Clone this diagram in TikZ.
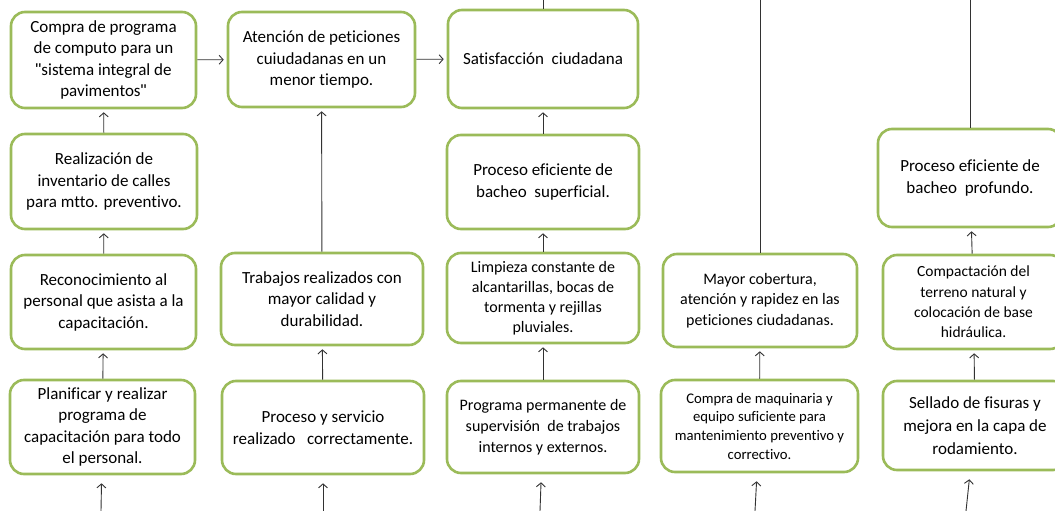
\documentclass[tikz,border=0pt]{standalone}
\usepackage{fontspec}
\setmainfont{Carlito}[Ligatures=NoCommon]
\newfontfamily\quotefont{Liberation Sans}
\usetikzlibrary{arrows.meta}

\definecolor{boxgreen}{RGB}{155,187,89}
\definecolor{linegray}{RGB}{50,50,50}
\newcommand{\sq}{{\quotefont\symbol{34}}}

\begin{document}
\begin{tikzpicture}[x=1pt, y=-1pt, >={Straight Barb[length=4pt,width=9pt]},
  box/.style={draw=boxgreen, line width=2.6pt, rounded corners=14pt, align=center, inner sep=2pt, font=\fontsize{17}{21.5}\selectfont},
  link/.style={->, draw=linegray, line width=0.9pt, shorten >=3pt},
  feed/.style={link, shorten >=8pt}]
\useasboundingbox[fill=white] (0,0) rectangle (1055,511);

% Column 1
\node[box, minimum width=185pt, minimum height=96pt] (a1) at (103.5,60) {Compra de programa\\de computo para un\\\sq sistema integral de\\pavimentos\sq};
\node[box, minimum width=186pt, minimum height=95pt] (a2) at (104,181.5) {Realización de\\inventario de calles\\para mtto. preventivo.};
\node[box, minimum width=185pt, minimum height=94pt] (a3) at (103.5,302) {Reconocimiento al\\personal que asista a la\\capacitación.};
\node[box, minimum width=185pt, minimum height=94pt] (a4) at (102.5,427) {Planificar y realizar\\programa de\\capacitación para todo\\el personal.};

% Column 2
\node[box, minimum width=187pt, minimum height=95pt] (b1) at (321.5,59.5) {Atención de peticiones\\cuiudadanas en un\\menor tiempo.};
\node[box, minimum width=202pt, minimum height=92pt] (b2) at (322,299) {Trabajos realizados con\\mayor calidad y\\durabilidad.};
\node[box, minimum width=202pt, minimum height=93pt] (b3) at (323,427.5) {Proceso y servicio\\realizado~~~correctamente.};

% Column 3
\node[box, minimum width=190pt, minimum height=98pt] (c1) at (543,59) {Satisfacción~~ciudadana};
\node[box, minimum width=192pt, minimum height=94pt] (c2) at (543,182) {Proceso eficiente de\\bacheo~~superficial.};
\node[box, minimum width=192pt, minimum height=90pt, font=\fontsize{16}{20}\selectfont] (c3) at (543,298) {Limpieza constante de\\alcantarillas, bocas de\\tormenta y rejillas\\pluviales.};
\node[box, minimum width=192pt, minimum height=92pt, font=\fontsize{16}{21}\selectfont] (c4) at (543,427) {Programa permanente de\\supervisión~~de trabajos\\internos y externos.};

% Column 4
\node[box, minimum width=194pt, minimum height=93pt, font=\fontsize{16}{20.5}\selectfont] (d1) at (760,300.5) {Mayor cobertura,\\atención y rapidez en las\\peticiones ciudadanas.};
\node[box, minimum width=197pt, minimum height=92pt, font=\fontsize{14.7}{18.7}\selectfont] (d2) at (759.5,426) {Compra de maquinaria y\\equipo suficiente para\\mantenimiento preventivo y\\correctivo.};

% Column 5
\node[box, minimum width=184pt, minimum height=98pt] (e1) at (970,178) {Proceso eficiente de\\bacheo~~profundo.};
\node[box, minimum width=181pt, minimum height=94pt, font=\fontsize{15.5}{20.3}\selectfont] (e2) at (973.5,302) {Compactación del\\terreno natural y\\colocación de base\\hidráulica.};
\node[box, minimum width=184pt, minimum height=89pt, font=\fontsize{17}{23}\selectfont] (e3) at (975,425.5) {Sellado de fisuras y\\mejora en la capa de\\rodamiento.};

% Loose ends
\coordinate (a0) at (101,511);
\coordinate (b0) at (323,511);
\coordinate (c0) at (540,511);
\coordinate (d0) at (755,511);
\coordinate (e0) at (966,511);
\coordinate (ctop) at (543,0);
\coordinate (dtop) at (760,0);
\coordinate (etop) at (970,0);

% Connections
\draw[feed] (a0) -- (a4);
\draw[link] (a4) -- (a3);
\draw[link] (a3) -- (a2);
\draw[link] (a2) -- (a1);
\draw[link] (a1) -- (b1);
\draw[feed] (b0) -- (b3);
\draw[link] (b3) -- (b2);
\draw[link] (b2) -- (b1);
\draw[link] (b1) -- (c1);
\draw[feed] (c0) -- (c4);
\draw[link] (c4) -- (c3);
\draw[link] (c3) -- (c2);
\draw[link] (c2) -- (c1);
\draw[feed] (d0) -- (d2);
\draw[link] (d2) -- (d1);
\draw[feed] (e0) -- (e3);
\draw[link] (e3) -- (e2);
\draw[link] (e2) -- (e1);

% Lines leaving the top
\draw[draw=linegray, line width=0.9pt] (c1) -- (ctop);
\draw[draw=linegray, line width=0.9pt] (d1) -- (dtop);
\draw[draw=linegray, line width=0.9pt] (e1) -- (etop);
\end{tikzpicture}
\end{document}
